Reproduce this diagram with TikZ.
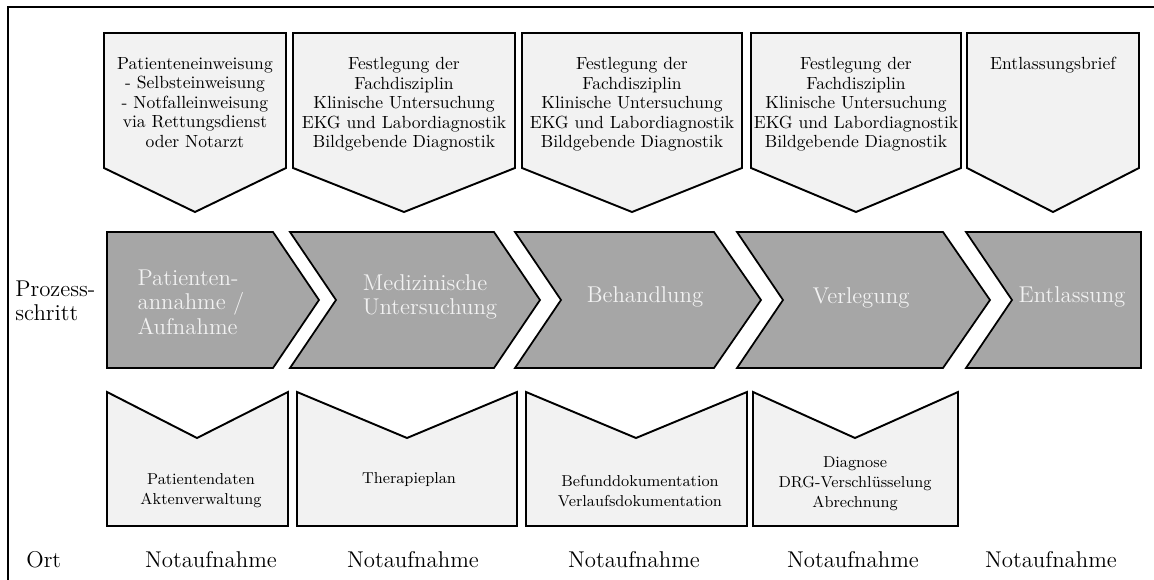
\documentclass[tikz,border=0pt]{standalone}
\usepackage{fontspec}
\definecolor{boxgray}{HTML}{F2F2F2}
\definecolor{stepgray}{HTML}{A6A6A6}
\tikzset{
	frame/.style={line width=1.2pt},
	infobox/.style={draw,line width=1.1pt,fill=boxgray},
	stepbox/.style={draw,line width=1pt,fill=stepgray},
	infotext/.style={align=center,inner sep=0pt,font=\fontsize{10}{11.1}\selectfont},
	doctext/.style={align=center,inner sep=0pt,font=\fontsize{9}{11.5}\selectfont},
	steptext/.style={align=left,inner sep=0pt,text=boxgray,font=\fontsize{13}{14}\selectfont},
	rowlabel/.style={align=left,inner sep=0pt,font=\fontsize{13}{14}\selectfont}
}

\begin{document}
\begin{tikzpicture}[x=0.02cm,y=-0.02cm]
	\useasboundingbox (0,0) rectangle (1154,580);
	\draw[frame] (8,590) |- (1160,7);

	% Eingaben oben
	\draw[infobox] (104,33) -- (286,33) -- (286,168) -- (195,212) -- (104,168) -- cycle;
	\draw[infobox] (293,33) -- (515,33) -- (515,168) -- (404,212) -- (293,168) -- cycle;
	\draw[infobox] (522,33) -- (742,33) -- (742,168) -- (632,212) -- (522,168) -- cycle;
	\draw[infobox] (751,33) -- (961,33) -- (961,168) -- (856,212) -- (751,168) -- cycle;
	\draw[infobox] (967,33) -- (1139,33) -- (1139,168) -- (1053,212) -- (967,168) -- cycle;
	\node[infotext,anchor=north] (einw) at (195,57) {Patienteneinweisung\\- Selbsteinweisung\\- Notfalleinweisung\\via Rettungsdienst\\oder Notarzt};
	\node[infotext,anchor=north] (diag1) at (404,57) {Festlegung der\\Fachdisziplin\\Klinische Untersuchung\\EKG und Labordiagnostik\\Bildgebende Diagnostik};
	\node[infotext,anchor=north] (diag2) at (632,57) {Festlegung der\\Fachdisziplin\\Klinische Untersuchung\\EKG und Labordiagnostik\\Bildgebende Diagnostik};
	\node[infotext,anchor=north] (diag3) at (856,57) {Festlegung der\\Fachdisziplin\\Klinische Untersuchung\\EKG und Labordiagnostik\\Bildgebende Diagnostik};
	\node[infotext,anchor=north] (brief) at (1053,57) {Entlassungsbrief};

	% Prozessschritte
	\node[rowlabel,anchor=west] (prozess) at (15,301) {Prozess-\\schritt};
	\draw[stepbox] (107,232) -- (273,232) -- (319,300) -- (273,368) -- (107,368) -- cycle;
	\draw[stepbox] (290,232) -- (494,232) -- (540,300) -- (494,368) -- (290,368) -- (336,300) -- cycle;
	\draw[stepbox] (515,232) -- (714,232) -- (761,300) -- (714,368) -- (515,368) -- (561,300) -- cycle;
	\draw[stepbox] (737,232) -- (943,232) -- (990,300) -- (943,368) -- (737,368) -- (783,300) -- cycle;
	\draw[stepbox] (966,232) -- (1141,232) -- (1141,368) -- (966,368) -- (1012,300) -- cycle;
	\node[steptext] (annahme) at (191,302) {Patienten-\\annahme /\\Aufnahme};
	\node[steptext] (untersuchung) at (430,297) {Medizinische\\Untersuchung};
	\node[steptext] (behandlung) at (645,297) {Behandlung};
	\node[steptext] (verlegung) at (861,298) {Verlegung};
	\node[steptext] (entlassung) at (1072,297) {Entlassung};

	% Dokumentation unten
	\draw[infobox] (107,392) -- (197,438) -- (288,392) -- (288,526) -- (107,526) -- cycle;
	\draw[infobox] (297,392) -- (407,438) -- (517,392) -- (517,526) -- (297,526) -- cycle;
	\draw[infobox] (526,392) -- (636,438) -- (747,392) -- (747,526) -- (526,526) -- cycle;
	\draw[infobox] (753,392) -- (855,438) -- (958,392) -- (958,526) -- (753,526) -- cycle;
	\node[doctext] (akte) at (201,491) {Patientendaten\\Aktenverwaltung};
	\node[doctext] (plan) at (409,480) {Therapieplan};
	\node[doctext] (befund) at (640,491) {Befunddokumentation\\Verlaufsdokumentation};
	\node[doctext] (abrechnung) at (855,484) {Diagnose\\DRG-Verschlüsselung\\Abrechnung};

	% Ort
	\node[rowlabel,anchor=base west] (ort) at (26,568) {Ort};
	\node[rowlabel,anchor=base] (ort1) at (211,568) {Notaufnahme};
	\node[rowlabel,anchor=base] (ort2) at (413,568) {Notaufnahme};
	\node[rowlabel,anchor=base] (ort3) at (634,568) {Notaufnahme};
	\node[rowlabel,anchor=base] (ort4) at (853,568) {Notaufnahme};
	\node[rowlabel,anchor=base] (ort5) at (1051,568) {Notaufnahme};
\end{tikzpicture}
\end{document}
